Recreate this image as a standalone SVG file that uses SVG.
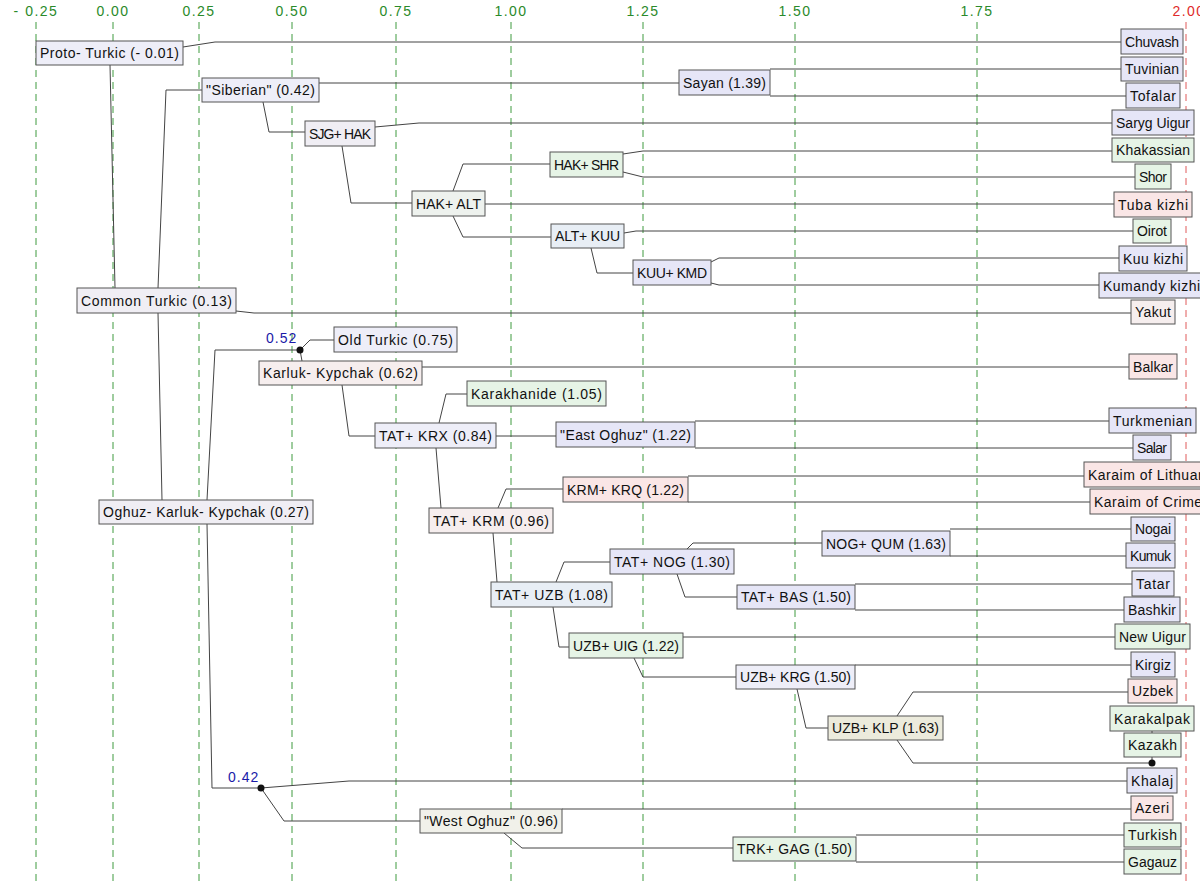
<svg xmlns="http://www.w3.org/2000/svg" width="1200" height="887" viewBox="0 0 1200 887">
<style>
.bg{fill:#fff}
.grid{stroke:#3f9a3f;stroke-width:1;stroke-dasharray:7,5;fill:none}
.gridr{stroke:#e05a5a;stroke-width:1;stroke-dasharray:7,5;fill:none}
.ax{font-family:"Liberation Sans",Arial,sans-serif;font-size:14px;fill:#2a8a2a;text-anchor:middle;letter-spacing:1.5px}
.axr{fill:#e02a2a}
.c polyline{fill:none;stroke:#444;stroke-width:1}
.n rect{stroke:#555;stroke-width:1}
.n text{font-family:"Liberation Sans",Arial,sans-serif;font-size:14px;fill:#111;text-anchor:middle}
.n text.ts{text-anchor:start;letter-spacing:0.5px}
.lav{fill:#e6e6f7}.lav2{fill:#eeeef8}.grn{fill:#e6f4e6}.pnk{fill:#fae6e6}
.gry{fill:#f0eef4}.pk2{fill:#f6eeee}.blu{fill:#e8eef5}.crm{fill:#ecebdc}.beig{fill:#f1f1ea}.gg{fill:#eef2ee}
.bl{font-family:"Liberation Sans",Arial,sans-serif;font-size:14px;fill:#1a1aa8;letter-spacing:1px}
</style>
<rect class="bg" x="0" y="0" width="1200" height="887"/>
<g id="axis">
<line class="grid" x1="36" y1="22" x2="36" y2="882"/>
<line class="grid" x1="113" y1="22" x2="113" y2="882"/>
<line class="grid" x1="199" y1="22" x2="199" y2="882"/>
<line class="grid" x1="292" y1="22" x2="292" y2="882"/>
<line class="grid" x1="396" y1="22" x2="396" y2="882"/>
<line class="grid" x1="511" y1="22" x2="511" y2="882"/>
<line class="grid" x1="643" y1="22" x2="643" y2="882"/>
<line class="grid" x1="795" y1="22" x2="795" y2="882"/>
<line class="grid" x1="977" y1="22" x2="977" y2="882"/>
<line class="gridr" x1="1186" y1="22" x2="1186" y2="882"/>
<text class="ax" x="36" y="16">- 0.25</text>
<text class="ax" x="113" y="16">0.00</text>
<text class="ax" x="199" y="16">0.25</text>
<text class="ax" x="292" y="16">0.50</text>
<text class="ax" x="396" y="16">0.75</text>
<text class="ax" x="511" y="16">1.00</text>
<text class="ax" x="643" y="16">1.25</text>
<text class="ax" x="795" y="16">1.50</text>
<text class="ax" x="977" y="16">1.75</text>
<text class="ax axr" x="1189" y="16">2.00</text>
</g>
<g id="connectors" class="c">
<polyline points="183,47 215,42 1121,42"/>
<polyline points="110,65 115,288"/>
<polyline points="158,288 166,90 202,90"/>
<polyline points="158,313 162,500"/>
<polyline points="236,311 254,313 1131,313"/>
<polyline points="319,83 679,83"/>
<polyline points="770,69 1121,69"/>
<polyline points="770,96 1126,96"/>
<polyline points="263,102 269,132 305,132"/>
<polyline points="375,127 419,123 1112,123"/>
<polyline points="342,146 351,203 412,203"/>
<polyline points="453,191 463,164 550,164"/>
<polyline points="485,204 1114,204"/>
<polyline points="453,216 463,237 551,237"/>
<polyline points="623,154 643,151 1112,151"/>
<polyline points="623,172 643,177 1135,177"/>
<polyline points="624,233 636,231 1133,231"/>
<polyline points="591,248 597,273 633,273"/>
<polyline points="711,262 719,258 1119,258"/>
<polyline points="711,283 719,285 1099,285"/>
<polyline points="300,350 215,350 207,500"/>
<polyline points="207,524 212,788 261,788"/>
<polyline points="300,350 310,340 334,340"/>
<polyline points="300,350 302,361"/>
<polyline points="422,367 1129,367"/>
<polyline points="342,385 349,436 375,436"/>
<polyline points="439,423 446,394 467,394"/>
<polyline points="496,436 556,436"/>
<polyline points="695,421 1109,421"/>
<polyline points="695,448 1133,448"/>
<polyline points="436,448 441,508"/>
<polyline points="498,508 506,489 563,489"/>
<polyline points="688,476 1084,476"/>
<polyline points="688,502 1090,502"/>
<polyline points="493,533 497,582"/>
<polyline points="556,582 564,562 610,562"/>
<polyline points="687,549 693,543 822,543"/>
<polyline points="950,529 1131,529"/>
<polyline points="950,556 1126,556"/>
<polyline points="677,574 685,597 737,597"/>
<polyline points="855,584 1132,584"/>
<polyline points="855,610 1124,610"/>
<polyline points="553,607 559,647 569,647"/>
<polyline points="683,637 1115,637"/>
<polyline points="634,658 643,677 736,677"/>
<polyline points="855,665 1131,665"/>
<polyline points="797,689 806,728 828,728"/>
<polyline points="897,716 913,692 1128,692"/>
<polyline points="897,740 913,763 1152,763"/>
<polyline points="1152,763 1152,757"/>
<polyline points="1152,731 1152,733"/>
<polyline points="261,788 349,781 1127,781"/>
<polyline points="261,788 284,821 420,821"/>
<polyline points="562,809 1131,809"/>
<polyline points="504,833 522,848 733,848"/>
<polyline points="856,835 1124,835"/>
<polyline points="856,862 1124,862"/>
<circle cx="300" cy="350" r="3.5" fill="#111"/>
<circle cx="261" cy="788" r="3.5" fill="#111"/>
<circle cx="1152" cy="763" r="3.5" fill="#111"/>
</g>
<text class="bl" x="266" y="343">0.52</text>
<text class="bl" x="228" y="782">0.42</text>
<g id="n-proto" class="n"><rect class="lav2" x="36" y="41" width="147" height="24"/><text x="109.5" y="58" textLength="139">Proto- Turkic (- 0.01)</text></g>
<g id="n-siberian" class="n"><rect class="lav2" x="202" y="78" width="117" height="24"/><text x="260.5" y="95" textLength="109">"Siberian" (0.42)</text></g>
<g id="n-sayan" class="n"><rect class="lav" x="679" y="70" width="91" height="25"/><text x="724.5" y="87.5" textLength="83">Sayan (1.39)</text></g>
<g id="n-sjghak" class="n"><rect class="gry" x="305" y="121" width="70" height="25"/><text x="340" y="138.5" textLength="62">SJG+ HAK</text></g>
<g id="n-hakshr" class="n"><rect class="grn" x="550" y="152" width="73" height="25"/><text x="586.5" y="169.5" textLength="65">HAK+ SHR</text></g>
<g id="n-hakalt" class="n"><rect class="gg" x="412" y="191" width="73" height="25"/><text x="448.5" y="208.5" textLength="65">HAK+ ALT</text></g>
<g id="n-altkuu" class="n"><rect class="blu" x="551" y="224" width="73" height="24"/><text x="587.5" y="241" textLength="65">ALT+ KUU</text></g>
<g id="n-kuukmd" class="n"><rect class="lav" x="633" y="260" width="78" height="25"/><text x="672" y="277.5" textLength="70">KUU+ KMD</text></g>
<g id="n-common" class="n"><rect class="gry" x="77" y="288" width="159" height="25"/><text x="156.5" y="305.5" textLength="151">Common Turkic (0.13)</text></g>
<g id="n-oldturkic" class="n"><rect class="lav2" x="334" y="327" width="123" height="25"/><text x="395.5" y="344.5" textLength="115">Old Turkic (0.75)</text></g>
<g id="n-karlukk" class="n"><rect class="pk2" x="259" y="361" width="163" height="24"/><text x="340.5" y="378" textLength="155">Karluk- Kypchak (0.62)</text></g>
<g id="n-karakhanide" class="n"><rect class="grn" x="467" y="381" width="139" height="25"/><text x="536.5" y="398.5" textLength="131">Karakhanide (1.05)</text></g>
<g id="n-tatkrx" class="n"><rect class="lav2" x="375" y="423" width="121" height="25"/><text x="435.5" y="440.5" textLength="113">TAT+ KRX (0.84)</text></g>
<g id="n-eastoghuz" class="n"><rect class="lav" x="556" y="422" width="139" height="25"/><text x="625.5" y="439.5" textLength="131">"East Oghuz" (1.22)</text></g>
<g id="n-krmkrq" class="n"><rect class="pnk" x="563" y="477" width="125" height="25"/><text x="625.5" y="494.5" textLength="117">KRM+ KRQ (1.22)</text></g>
<g id="n-okk" class="n"><rect class="gry" x="99" y="500" width="214" height="24"/><text x="206" y="517" textLength="206">Oghuz- Karluk- Kypchak (0.27)</text></g>
<g id="n-tatkrm" class="n"><rect class="pk2" x="429" y="508" width="124" height="25"/><text x="491" y="525.5" textLength="116">TAT+ KRM (0.96)</text></g>
<g id="n-nogqum" class="n"><rect class="lav" x="822" y="531" width="128" height="25"/><text x="886" y="548.5" textLength="120">NOG+ QUM (1.63)</text></g>
<g id="n-tatnog" class="n"><rect class="lav" x="610" y="549" width="124" height="25"/><text x="672" y="566.5" textLength="116">TAT+ NOG (1.30)</text></g>
<g id="n-tatuzb" class="n"><rect class="blu" x="491" y="582" width="121" height="25"/><text x="551.5" y="599.5" textLength="113">TAT+ UZB (1.08)</text></g>
<g id="n-tatbas" class="n"><rect class="lav" x="737" y="585" width="118" height="24"/><text x="796" y="602" textLength="110">TAT+ BAS (1.50)</text></g>
<g id="n-uzbuig" class="n"><rect class="grn" x="569" y="633" width="114" height="25"/><text x="626" y="650.5" textLength="106">UZB+ UIG (1.22)</text></g>
<g id="n-uzbkrg" class="n"><rect class="lav2" x="736" y="665" width="119" height="24"/><text x="795.5" y="682" textLength="111">UZB+ KRG (1.50)</text></g>
<g id="n-uzbklp" class="n"><rect class="crm" x="828" y="716" width="115" height="24"/><text x="885.5" y="733" textLength="107">UZB+ KLP (1.63)</text></g>
<g id="n-westoghuz" class="n"><rect class="beig" x="420" y="809" width="142" height="24"/><text x="491" y="826" textLength="134">"West Oghuz" (0.96)</text></g>
<g id="n-trkgag" class="n"><rect class="grn" x="733" y="837" width="123" height="24"/><text x="794.5" y="854" textLength="115">TRK+ GAG (1.50)</text></g>
<g id="l-chuvash" class="n"><rect class="lav" x="1121" y="29" width="62" height="25"/><text x="1152" y="46.5" textLength="54">Chuvash</text></g>
<g id="l-tuvinian" class="n"><rect class="lav" x="1121" y="57" width="62" height="24"/><text x="1152" y="74" textLength="54">Tuvinian</text></g>
<g id="l-tofalar" class="n"><rect class="lav" x="1126" y="83" width="54" height="25"/><text x="1153" y="100.5" textLength="46">Tofalar</text></g>
<g id="l-saryg" class="n"><rect class="lav" x="1112" y="110" width="82" height="25"/><text x="1153" y="127.5" textLength="74">Saryg Uigur</text></g>
<g id="l-khakassian" class="n"><rect class="grn" x="1112" y="138" width="82" height="24"/><text x="1153" y="155" textLength="74">Khakassian</text></g>
<g id="l-shor" class="n"><rect class="grn" x="1135" y="164" width="36" height="25"/><text x="1153" y="181.5" textLength="28">Shor</text></g>
<g id="l-tuba" class="n"><rect class="pnk" x="1114" y="192" width="78" height="25"/><text x="1153" y="209.5" textLength="70">Tuba kizhi</text></g>
<g id="l-oirot" class="n"><rect class="grn" x="1133" y="219" width="38" height="24"/><text x="1152" y="236" textLength="30">Oirot</text></g>
<g id="l-kuu" class="n"><rect class="lav" x="1119" y="246" width="68" height="25"/><text x="1153" y="263.5" textLength="60">Kuu kizhi</text></g>
<g id="l-kumandy" class="n"><rect class="lav" x="1099" y="273" width="112" height="25"/><text class="ts" x="1103" y="290.5">Kumandy kizhi</text></g>
<g id="l-yakut" class="n"><rect class="pk2" x="1131" y="300" width="44" height="24"/><text x="1153" y="317" textLength="36">Yakut</text></g>
<g id="l-balkar" class="n"><rect class="pnk" x="1129" y="354" width="48" height="25"/><text x="1153" y="371.5" textLength="40">Balkar</text></g>
<g id="l-turkmenian" class="n"><rect class="lav" x="1109" y="408" width="87" height="25"/><text x="1152.5" y="425.5" textLength="79">Turkmenian</text></g>
<g id="l-salar" class="n"><rect class="lav" x="1133" y="435" width="38" height="25"/><text x="1152" y="452.5" textLength="30">Salar</text></g>
<g id="l-lithuania" class="n"><rect class="pnk" x="1084" y="462" width="146" height="25"/><text class="ts" x="1088" y="479.5">Karaim of Lithuania</text></g>
<g id="l-crimea" class="n"><rect class="pnk" x="1090" y="489" width="134" height="25"/><text class="ts" x="1094" y="506.5">Karaim of Crimea</text></g>
<g id="l-nogai" class="n"><rect class="lav" x="1131" y="517" width="44" height="24"/><text x="1153" y="534" textLength="36">Nogai</text></g>
<g id="l-kumuk" class="n"><rect class="lav" x="1126" y="543" width="49" height="25"/><text x="1150.5" y="560.5" textLength="41">Kumuk</text></g>
<g id="l-tatar" class="n"><rect class="lav" x="1132" y="571" width="42" height="25"/><text x="1153" y="588.5" textLength="34">Tatar</text></g>
<g id="l-bashkir" class="n"><rect class="lav" x="1124" y="597" width="56" height="25"/><text x="1152" y="614.5" textLength="48">Bashkir</text></g>
<g id="l-newuigur" class="n"><rect class="grn" x="1115" y="624" width="75" height="25"/><text x="1152.5" y="641.5" textLength="67">New Uigur</text></g>
<g id="l-kirgiz" class="n"><rect class="lav" x="1131" y="652" width="44" height="25"/><text x="1153" y="669.5" textLength="36">Kirgiz</text></g>
<g id="l-uzbek" class="n"><rect class="pnk" x="1128" y="679" width="49" height="24"/><text x="1152.5" y="696" textLength="41">Uzbek</text></g>
<g id="l-karakalpak" class="n"><rect class="grn" x="1110" y="706" width="84" height="25"/><text x="1152" y="723.5" textLength="76">Karakalpak</text></g>
<g id="l-kazakh" class="n"><rect class="grn" x="1124" y="733" width="57" height="24"/><text x="1152.5" y="750" textLength="49">Kazakh</text></g>
<g id="l-khalaj" class="n"><rect class="lav" x="1127" y="768" width="50" height="25"/><text x="1152" y="785.5" textLength="42">Khalaj</text></g>
<g id="l-azeri" class="n"><rect class="pnk" x="1131" y="796" width="42" height="24"/><text x="1152" y="813" textLength="34">Azeri</text></g>
<g id="l-turkish" class="n"><rect class="grn" x="1124" y="823" width="57" height="24"/><text x="1152.5" y="840" textLength="49">Turkish</text></g>
<g id="l-gagauz" class="n"><rect class="grn" x="1124" y="849" width="57" height="25"/><text x="1152.5" y="866.5" textLength="49">Gagauz</text></g>
</svg>
